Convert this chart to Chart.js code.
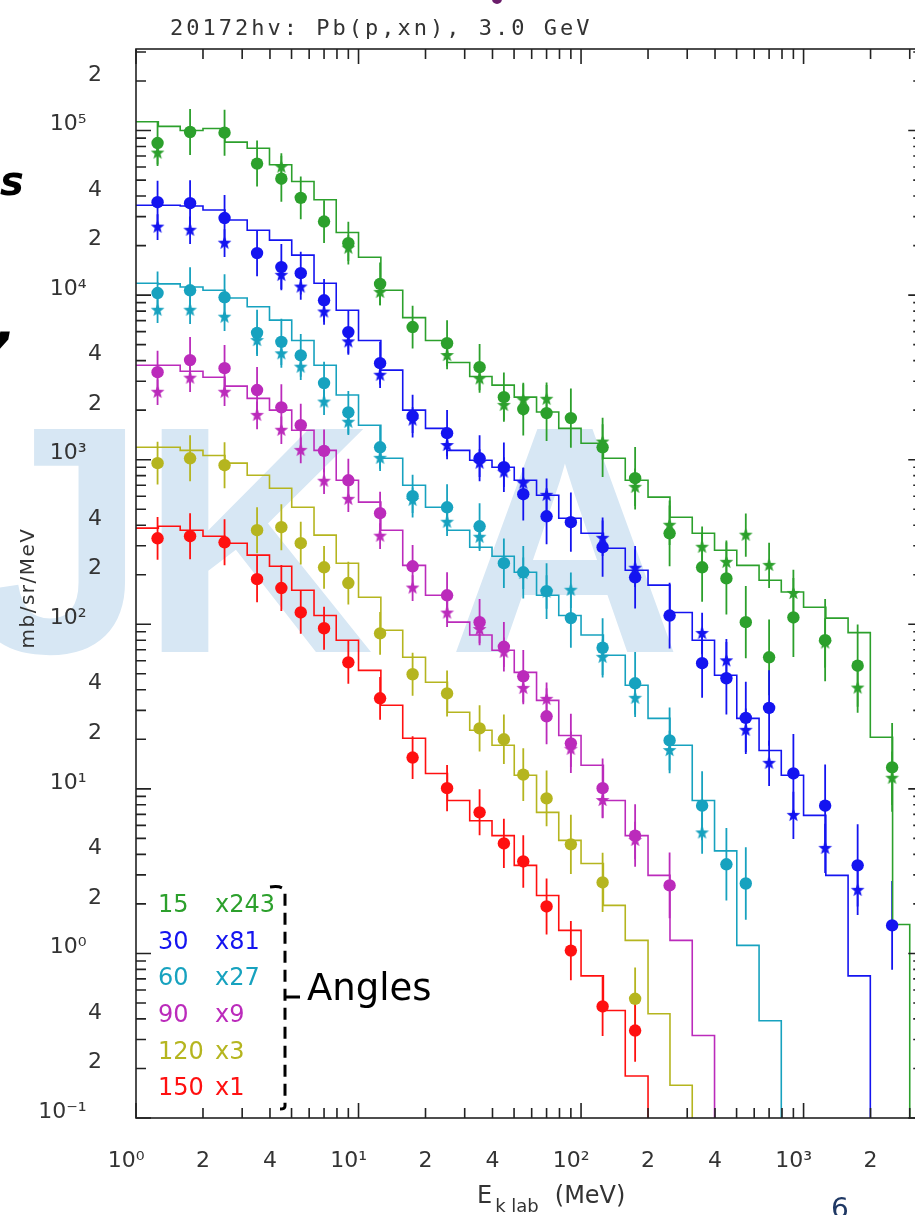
<!DOCTYPE html>
<html>
<head>
<meta charset="utf-8">
<script src="https://cdn.jsdelivr.net/npm/chart.js@4.4.1/dist/chart.umd.min.js"></script>
<style>
html, body { margin: 0; padding: 0; background: #fff; }
#page { position: relative; width: 915px; height: 1215px; overflow: hidden; background: #fff; }
#wm, #marks { position: absolute; left: 0; top: 0; }
#plot { position: absolute; left: 0; top: 0; width: 940px; height: 1215px; }
.t { position: absolute; white-space: nowrap; font-family: "DejaVu Sans", sans-serif; line-height: 1; }
.leg { font-size: 24px; }
</style>
</head>
<body>
<div id="page">
  <svg id="wm" width="915" height="1215">
    <g fill="#d7e7f4" font-family="Liberation Sans, Arial, sans-serif" font-weight="bold" font-size="324">
      <text x="-33" y="652">J</text>
      <text x="140" y="652">K</text>
      <text x="448" y="652">A</text>
    </g>
  </svg>
  <canvas id="plot" width="940" height="1215"></canvas>
  <svg id="marks" width="915" height="1215">
    <path d="M270 887 Q285 885 285 893 L285 1106 Q285 1109 280 1109" stroke="#000" stroke-width="3" fill="none" stroke-dasharray="12 7"/>
    <path d="M285 997 L300 997" stroke="#000" stroke-width="3" fill="none"/>
    <circle cx="497" cy="-1" r="5" fill="#6b1d6b"/>
  </svg>

  <div class="t" style="left:170px;top:17px;font-family:'DejaVu Sans Mono',monospace;font-size:22px;letter-spacing:3px;color:#333">20172hv: Pb(p,xn), 3.0 GeV</div>
  <div class="t" style="left:27px;top:588px;font-size:20px;letter-spacing:1.5px;color:#333;transform:translate(-50%,-50%) rotate(-90deg)">mb/sr/MeV</div>
  <div class="t" style="left:477px;top:1183px;font-size:24px;color:#333">E<span style="font-size:18px;position:relative;top:9px;margin-left:3px">k lab</span><span style="margin-left:16px">(MeV)</span></div>

  <div class="t leg" style="left:158px;top:892px;color:#2ca02c">15</div>
  <div class="t leg" style="left:215px;top:892px;color:#2ca02c">x243</div>
  <div class="t leg" style="left:158px;top:929px;color:#1414f0">30</div>
  <div class="t leg" style="left:215px;top:929px;color:#1414f0">x81</div>
  <div class="t leg" style="left:158px;top:965px;color:#17a2bf">60</div>
  <div class="t leg" style="left:215px;top:965px;color:#17a2bf">x27</div>
  <div class="t leg" style="left:158px;top:1002px;color:#bb2bbb">90</div>
  <div class="t leg" style="left:215px;top:1002px;color:#bb2bbb">x9</div>
  <div class="t leg" style="left:158px;top:1039px;color:#b5b51f">120</div>
  <div class="t leg" style="left:215px;top:1039px;color:#b5b51f">x3</div>
  <div class="t leg" style="left:158px;top:1075px;color:#ff1010">150</div>
  <div class="t leg" style="left:215px;top:1075px;color:#ff1010">x1</div>

  <div class="t" style="left:307px;top:969px;font-size:37px;color:#000">Angles</div>
  <div class="t" style="left:0px;top:161px;font-size:40px;font-weight:bold;font-style:oblique;color:#000">s</div>
  <div class="t" style="left:-4px;top:296px;font-size:54px;font-weight:bold;font-style:oblique;color:#000">,</div>
  <div class="t" style="left:831px;top:1195px;font-size:28px;color:#1f3864">6</div>
</div>

<script>
// neutron energy of the measured points (MeV)
const energies = [1.25, 1.75, 2.5, 3.5, 4.5, 5.5, 7, 9, 12.5, 17.5, 25, 35, 45, 55, 70, 90,
	125, 175, 250, 350, 450, 550, 700, 900, 1250, 1750, 2500];
// half length of the error bars, in decades
const errDec = [0.13, 0.14, 0.14, 0.14, 0.14, 0.13, 0.13, 0.13, 0.13, 0.13, 0.14, 0.14, 0.15, 0.16,
	0.17, 0.18, 0.18, 0.19, 0.2, 0.21, 0.22, 0.22, 0.23, 0.24, 0.25, 0.25, 0.27];

// histogram bin edges of the calculation (MeV)
const binEdges = [1, 1.26, 1.58, 2.0, 2.51, 3.16, 3.98, 5.01, 6.31, 7.94, 10, 12.6, 15.8, 20.0,
	25.1, 31.6, 39.8, 50.1, 63.1, 79.4, 100, 126, 158, 200, 251, 316, 398, 501, 631, 794,
	1000, 1259, 1585, 1995, 2512, 3000];

// 15 deg (x243)
const dat15 = [8.4e4, 9.8e4, 9.7e4, 6.3e4, 5.1e4, 3.9e4, 2.8e4, 2.07e4, 1.17e4, 6.4e3, 5.1e3, 3.65e3,
	2.4e3, 2.03e3, 1.92e3, 1.79e3, 1.19e3, 772, 357, 222, 190, 103, 63, 110, 80, 56, 13.5];
const star15 = [7.3e4, null, null, null, 6.0e4, null, null, 1.93e4, 1.04e4, null, 4.3e3, 3.1e3,
	2.14e3, 2.3e3, 2.33e3, null, 1.28e3, 680, 400, 294, 238, 348, 228, 154, 77, 41, 11.6];
const mc15 = [1.13e5, 1.06e5, 1.0e5, 1.03e5, 8.5e4, 7.8e4, 6.2e4, 4.9e4, 3.8e4, 2.4e4, 1.7e4, 1.07e4,
	7.3e3, 5.3e3, 3.9e3, 3.2e3, 2.84e3, 2.4e3, 1.95e3, 1.55e3, 1.26e3, 1.02e3, 750, 592, 447, 357,
	282, 228, 185, 157, 127, 109, 89, 20.6, 1.5];

// 30 deg (x81)
const dat30 = [3.67e4, 3.62e4, 2.94e4, 1.8e4, 1.48e4, 1.36e4, 9.3e3, 5.96e3, 3.86e3, 1.84e3, 1.45e3,
	1.02e3, 900, 617, 453, 417, 294, 193, 113, 58, 47, 27, 31, 12.4, 7.9, 3.43, 1.48];
const star30 = [2.59e4, 2.48e4, 2.07e4, null, 1.32e4, 1.12e4, 7.9e3, 5.2e3, 3.26e3, 1.74e3, 1.22e3,
	953, 840, 720, 608, null, 333, 219, null, 88, 60, 22.7, 14.3, 6.9, 4.35, 2.42, null];
const mc30 = [3.52e4, 3.52e4, 3.48e4, 3.29e4, 2.86e4, 2.48e4, 2.16e4, 1.75e4, 1.18e4, 8.1e3, 5.3e3,
	3.5e3, 2.0e3, 1.55e3, 1.14e3, 993, 900, 750, 608, 441, 357, 290, 213, 173, 118, 80, 49, 26.8,
	17.1, 12.1, 6.9, 2.98, 0.73, 0.08, 0.01];

// 60 deg (x27)
const dat60 = [1.03e4, 1.07e4, 9.7e3, 5.9e3, 5.2e3, 4.3e3, 2.92e3, 1.94e3, 1.19e3, 600, 514, 394,
	235, 207, 159, 109, 72, 43.8, 19.7, 7.9, 3.48, 2.66, null, null, null, null, null];
const star60 = [8.1e3, 8.1e3, 7.35e3, 5.3e3, 4.4e3, 3.65e3, 2.24e3, 1.69e3, 1.02e3, 567, 417, 338,
	null, 204, 157, 161, 63, 35.5, 17.1, 5.4, null, null, null, null, null, null, null];
const mc60 = [1.18e4, 1.17e4, 1.12e4, 1.07e4, 9.6e3, 8.5e3, 7.05e3, 5.3e3, 3.75e3, 2.47e3, 1.62e3,
	1.02e3, 700, 514, 373, 294, 259, 207, 150, 113, 86, 64.8, 42.6, 26.8, 18.4, 8.5, 4.2, 1.12,
	0.39, 0.01, 0.01, 0.01, 0.01, 0.01, 0.01];

// 90 deg (x9)
const dat90 = [3.4e3, 4.03e3, 3.6e3, 2.65e3, 2.08e3, 1.62e3, 1.13e3, 750, 473, 225, 150, 103, 73,
	48.3, 27.6, 18.9, 10.1, 5.2, 2.59, null, null, null, null, null, null, null, null];
const star90 = [2.57e3, 3.13e3, 2.57e3, 1.86e3, 1.51e3, 1.14e3, 740, 575, 343, 166, 117, 93, 67.6,
	40.8, 35, 17.4, 8.5, 4.86, null, null, null, null, null, null, null, null, null];
const mc90 = [3.75e3, 3.75e3, 3.45e3, 3.17e3, 2.8e3, 2.36e3, 2.0e3, 1.51e3, 1.14e3, 750, 552, 373,
	228, 150, 103, 86, 69.5, 51, 34.5, 21.1, 13.9, 8.5, 5.2, 2.98, 1.2, 0.317, 0.01, 0.01, 0.01,
	0.01, 0.01, 0.01, 0.01, 0.01, 0.01];

// 120 deg (x3)
const dat120 = [953, 1.02e3, 926, 373, 389, 311, 222, 178, 88, 49.7, 38, 23.3, 20, 12.2, 8.75, 4.6,
	2.7, 0.53, null, null, null, null, null, null, null, null, null];
const mc120 = [1.19e3, 1.19e3, 1.14e3, 1.06e3, 953, 805, 671, 514, 348, 235, 146, 92, 63, 44.4,
	29.2, 22.7, 18.4, 12.1, 7.2, 4.86, 3.52, 1.96, 1.2, 0.43, 0.158, 0.01, 0.01, 0.01, 0.01, 0.01,
	0.01, 0.01, 0.01, 0.01, 0.01];

// 150 deg (x1)
const dat150 = [333, 343, 315, 188, 166, 118, 94.6, 58.7, 35.5, 15.5, 10.1, 7.2, 4.66, 3.62, 1.93,
	1.04, 0.476, 0.34, null, null, null, null, null, null, null, null, null];
const mc150 = [384, 394, 373, 343, 311, 263, 225, 161, 113, 80, 52.5, 32.2, 20.3, 12.4, 8.5, 6.4,
	5.2, 3.43, 2.25, 1.38, 0.73, 0.45, 0.18, 0.01, 0.01, 0.01, 0.01, 0.01, 0.01, 0.01, 0.01, 0.01,
	0.01, 0.01, 0.01];

const xLabelValues = [1, 2, 4, 10, 20, 40, 100, 200, 400, 1000, 2000];
const xLabelTexts = ['10⁰', '2', '4', '10¹', '2', '4', '10²', '2', '4', '10³', '2'];
const yLabelValues = [0.1, 0.2, 0.4, 1, 2, 4, 10, 20, 40, 100, 200, 400, 1000, 2000, 4000,
	1e4, 2e4, 4e4, 1e5, 2e5];
const yLabelTexts = ['10⁻¹', '2', '4', '10⁰', '2', '4', '10¹', '2', '4', '10²', '2', '4',
	'10³', '2', '4', '10⁴', '2', '4', '10⁵', '2'];

const series = [
	{ color: '#2ca02c', dat: dat15, star: star15, mc: mc15 },
	{ color: '#1414f0', dat: dat30, star: star30, mc: mc30 },
	{ color: '#17a2bf', dat: dat60, star: star60, mc: mc60 },
	{ color: '#bb2bbb', dat: dat90, star: star90, mc: mc90 },
	{ color: '#b5b51f', dat: dat120, star: null, mc: mc120 },
	{ color: '#ff1010', dat: dat150, star: null, mc: mc150 }
];

const X_MIN = 1, X_MAX = 3450, Y_MIN = 0.1, Y_MAX = 3.13e5;

function logTicks(lo, hi) {
	const out = [];
	for (let d = lo; d <= hi; d *= 10) {
		for (let m = 1; m <= 9; m++) {
			const v = Number((m * d).toPrecision(6));
			if (v >= lo && v <= hi) { out.push(v); }
		}
	}
	return out;
}
const xTicks = logTicks(1, X_MAX);
const yTicks = logTicks(0.1, Y_MAX);

function labelFor(values, texts, v, pad) {
	const i = values.findIndex(function (t) { return Math.abs(t - v) / t < 1e-6; });
	if (i < 0) { return ''; }
	return texts[i].length > 1 ? texts[i] + pad : texts[i];
}

function makeStar(color) {
	const c = document.createElement('canvas');
	c.width = 15; c.height = 15;
	const g = c.getContext('2d');
	g.fillStyle = color;
	g.beginPath();
	for (let k = 0; k < 10; k++) {
		const r = k % 2 === 0 ? 7.2 : 3;
		const a = -Math.PI / 2 + k * Math.PI / 5;
		g.lineTo(7.5 + r * Math.cos(a), 7.5 + r * Math.sin(a));
	}
	g.closePath();
	g.fill();
	return c;
}

function points(arr, scale) {
	return energies.map(function (e, i) {
		return arr[i] == null ? null : { x: e, y: arr[i], e: errDec[i] * scale };
	}).filter(Boolean);
}

function histPoints(arr) {
	const pts = arr.map(function (v, i) { return { x: binEdges[i], y: v }; });
	pts.push({ x: binEdges[binEdges.length - 1], y: arr[arr.length - 1] });
	pts.push({ x: binEdges[binEdges.length - 1], y: 0.001 });
	return pts;
}

const datasets = [];
series.forEach(function (s) {
	datasets.push({
		data: points(s.dat, 1), showLine: false, errorBars: true,
		pointStyle: 'circle', pointRadius: 6.2, pointHoverRadius: 6.2,
		backgroundColor: s.color, borderColor: s.color, pointBorderWidth: 0, order: 0
	});
	if (s.star) {
		datasets.push({
			data: points(s.star, 0.6), showLine: false, errorBars: true,
			pointStyle: makeStar(s.color), pointRadius: 7, backgroundColor: s.color,
			borderColor: s.color, order: 1
		});
	}
	datasets.push({
		data: histPoints(s.mc), stepped: true, borderColor: s.color, borderWidth: 1.6,
		pointRadius: 0, pointHoverRadius: 0, fill: false, tension: 0, order: 2
	});
});

const errorBarPlugin = {
	id: 'errorBars',
	beforeDatasetsDraw: function (chart) {
		const ctx = chart.ctx, xs = chart.scales.x, ys = chart.scales.y, a = chart.chartArea;
		ctx.save();
		ctx.beginPath();
		ctx.rect(a.left, a.top, a.right - a.left, a.bottom - a.top);
		ctx.clip();
		ctx.lineWidth = 1.8;
		chart.data.datasets.forEach(function (ds) {
			if (!ds.errorBars) { return; }
			ctx.strokeStyle = ds.borderColor;
			ds.data.forEach(function (p) {
				const f = Math.pow(10, p.e);
				const px = xs.getPixelForValue(p.x);
				ctx.beginPath();
				ctx.moveTo(px, ys.getPixelForValue(p.y / f));
				ctx.lineTo(px, ys.getPixelForValue(p.y * f));
				ctx.stroke();
			});
		});
		ctx.restore();
	}
};

// frame with inward tick marks on all four sides
const framePlugin = {
	id: 'frame',
	afterDraw: function (chart) {
		const ctx = chart.ctx, xs = chart.scales.x, ys = chart.scales.y, a = chart.chartArea;
		ctx.save();
		ctx.strokeStyle = '#222';
		ctx.lineWidth = 1.6;
		ctx.strokeRect(a.left, a.top, a.right - a.left, a.bottom - a.top);
		ctx.beginPath();
		xTicks.forEach(function (v) {
			const px = xs.getPixelForValue(v);
			const len = Math.abs(Math.log10(v) % 1) < 1e-6 ? 15 : 10;
			ctx.moveTo(px, a.bottom); ctx.lineTo(px, a.bottom - len);
			ctx.moveTo(px, a.top); ctx.lineTo(px, a.top + len);
		});
		yTicks.forEach(function (v) {
			const py = ys.getPixelForValue(v);
			const lg = Math.log10(v);
			const len = Math.abs(lg - Math.round(lg)) < 1e-6 ? 15 : 10;
			ctx.moveTo(a.left, py); ctx.lineTo(a.left + len, py);
			ctx.moveTo(a.right, py); ctx.lineTo(a.right - len, py);
		});
		ctx.stroke();
		ctx.restore();
	}
};

new Chart(document.getElementById('plot'), {
	type: 'line',
	data: { datasets: datasets },
	options: {
		responsive: false, animation: false, devicePixelRatio: 1,
		layout: { padding: { top: 49, right: 15, left: 0, bottom: 0 } },
		events: [],
		plugins: { legend: { display: false }, tooltip: { enabled: false }, title: { display: false } },
		scales: {
			x: {
				type: 'logarithmic', position: 'bottom', min: X_MIN, max: X_MAX,
				afterBuildTicks: function (s) { s.ticks = xTicks.map(function (v) { return { value: v }; }); },
				afterFit: function (s) { s.height = 97; },
				grid: { display: false, drawTicks: false },
				border: { display: false },
				ticks: {
					autoSkip: false, maxRotation: 0, minRotation: 0, padding: 30, color: '#333',
					font: { family: 'DejaVu Sans', size: 22 },
					callback: function (v) { return labelFor(xLabelValues, xLabelTexts, v, '\u2002\u2009\u2009'); }
				}
			},
			y: {
				type: 'logarithmic', position: 'left', min: Y_MIN, max: Y_MAX,
				afterBuildTicks: function (s) { s.ticks = yTicks.map(function (v) { return { value: v }; }); },
				afterFit: function (s) { s.width = 136; },
				grid: { display: false, drawTicks: false },
				border: { display: false },
				ticks: {
					autoSkip: false, padding: 34, labelOffset: -6, color: '#333',
					font: { family: 'DejaVu Sans', size: 22 },
					callback: function (v) { return labelFor(yLabelValues, yLabelTexts, v, '\u2002\u2009'); }
				}
			}
		}
	},
	plugins: [errorBarPlugin, framePlugin]
});
</script>
</body>
</html>
